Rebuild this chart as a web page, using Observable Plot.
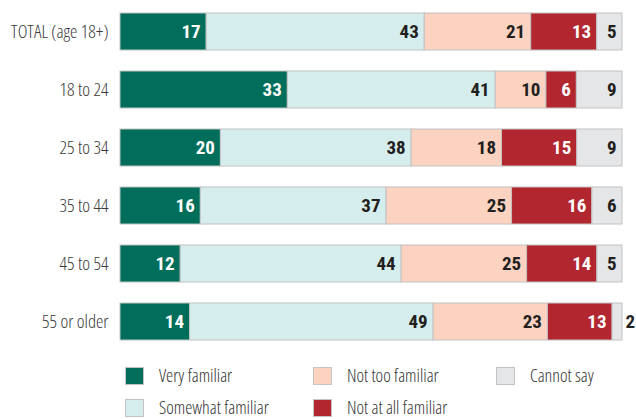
<!DOCTYPE html>
<html>
<head>
<meta charset="utf-8">
<script src="https://cdn.jsdelivr.net/npm/d3@7"></script>
<script src="https://cdn.jsdelivr.net/npm/@observablehq/plot@0.6"></script>
<style>
  html, body { margin: 0; padding: 0; background: #fff; }
  #wrap { position: relative; width: 636px; height: 419px; overflow: hidden;
    font-family: "Open Sans", sans-serif; font-stretch: 75%; }
  #chart svg { font-family: "Open Sans", sans-serif; font-stretch: 75%; }
  #chart svg .vlabel text, #chart svg text.vlabel { font-family: "Roboto Condensed", Roboto, sans-serif; font-stretch: 75%; }
  #legend { position: absolute; left: 0; top: 0; width: 636px; height: 419px; pointer-events: none; }
  .item { position: absolute; display: flex; align-items: center; font-size: 18px; font-weight: 350; color: #333; white-space: nowrap; line-height: 19px; }
  .sw { width: 19px; height: 18px; box-sizing: border-box; border: 1px solid #c4c4c4; margin-right: 15px; flex: none; }
</style>
</head>
<body>
<div id="wrap"><div id="chart"></div><div id="legend"></div></div>
<script>
const rows = ["TOTAL (age 18+)", "18 to 24", "25 to 34", "35 to 44", "45 to 54", "55 or older"];
const categories = ["Very familiar", "Somewhat familiar", "Not too familiar", "Not at all familiar", "Cannot say"];
const veryFamiliar     = [17, 33, 20, 16, 12, 14];
const somewhatFamiliar = [43, 41, 38, 37, 44, 49];
const notTooFamiliar   = [21, 10, 18, 25, 25, 23];
const notAtAllFamiliar = [13,  6, 15, 16, 14, 13];
const cannotSay        = [ 5,  9,  9,  6,  5,  2];
const colors = ["#006e5b", "#d6eded", "#fcd3c1", "#b2262f", "#e5e6e8"];
const darkCats = ["Very familiar", "Not at all familiar"];

const series = [veryFamiliar, somewhatFamiliar, notTooFamiliar, notAtAllFamiliar, cannotSay];
const data = rows.flatMap((r, i) => categories.map((c, j) => ({row: r, cat: c, value: series[j][i]})));

const stackOpts = {x: "value", y: "row", z: "cat", order: categories, offset: "normalize"};
const labelFont = {fontSize: 19, fontWeight: "bold", className: "vlabel"};

const chart = Plot.plot({
  width: 636,
  height: 352,
  marginLeft: 120,
  marginRight: 14,
  marginTop: 10,
  marginBottom: 10,
  style: {background: "#fff"},
  x: {domain: [0, 1], axis: null},
  y: {domain: rows, paddingInner: 0.37, paddingOuter: 0, label: null},
  color: {domain: categories, range: colors},
  marks: [
    Plot.barX(data, Plot.stackX({...stackOpts, fill: "cat", stroke: "#c2c2c2", strokeWidth: 1})),
    Plot.text(data, Plot.stackX2({...stackOpts, ...labelFont,
      text: d => (d.value >= 4 && darkCats.includes(d.cat)) ? String(d.value) : "",
      textAnchor: "end", dx: -6, fill: "#ffffff"})),
    Plot.text(data, Plot.stackX2({...stackOpts, ...labelFont,
      text: d => (d.value >= 4 && !darkCats.includes(d.cat)) ? String(d.value) : "",
      textAnchor: "end", dx: -6, fill: "#231f20"})),
    Plot.text(data, Plot.stackX2({...stackOpts, ...labelFont,
      text: d => d.value < 4 ? String(d.value) : "",
      textAnchor: "start", dx: 3, fill: "#231f20"})),
    Plot.axisY({tickSize: 0, tickPadding: 12, fontSize: 18.5, fontWeight: 350, fill: "#3a3a3a", label: null})
  ]
});
document.getElementById("chart").appendChild(chart);

// Legend (HTML), 3 columns x 2 rows, column-major order
const legendCols = [125, 313, 496];
const legendRows = [366, 398];
const legend = document.getElementById("legend");
categories.forEach((c, i) => {
  const col = Math.floor(i / 2), row = i % 2;
  const el = document.createElement("div");
  el.className = "item";
  el.style.left = legendCols[col] + "px";
  el.style.top = legendRows[row] + "px";
  el.innerHTML = `<span class="sw" style="background:${colors[i]}"></span><span>${c}</span>`;
  legend.appendChild(el);
});
</script>
</body>
</html>
